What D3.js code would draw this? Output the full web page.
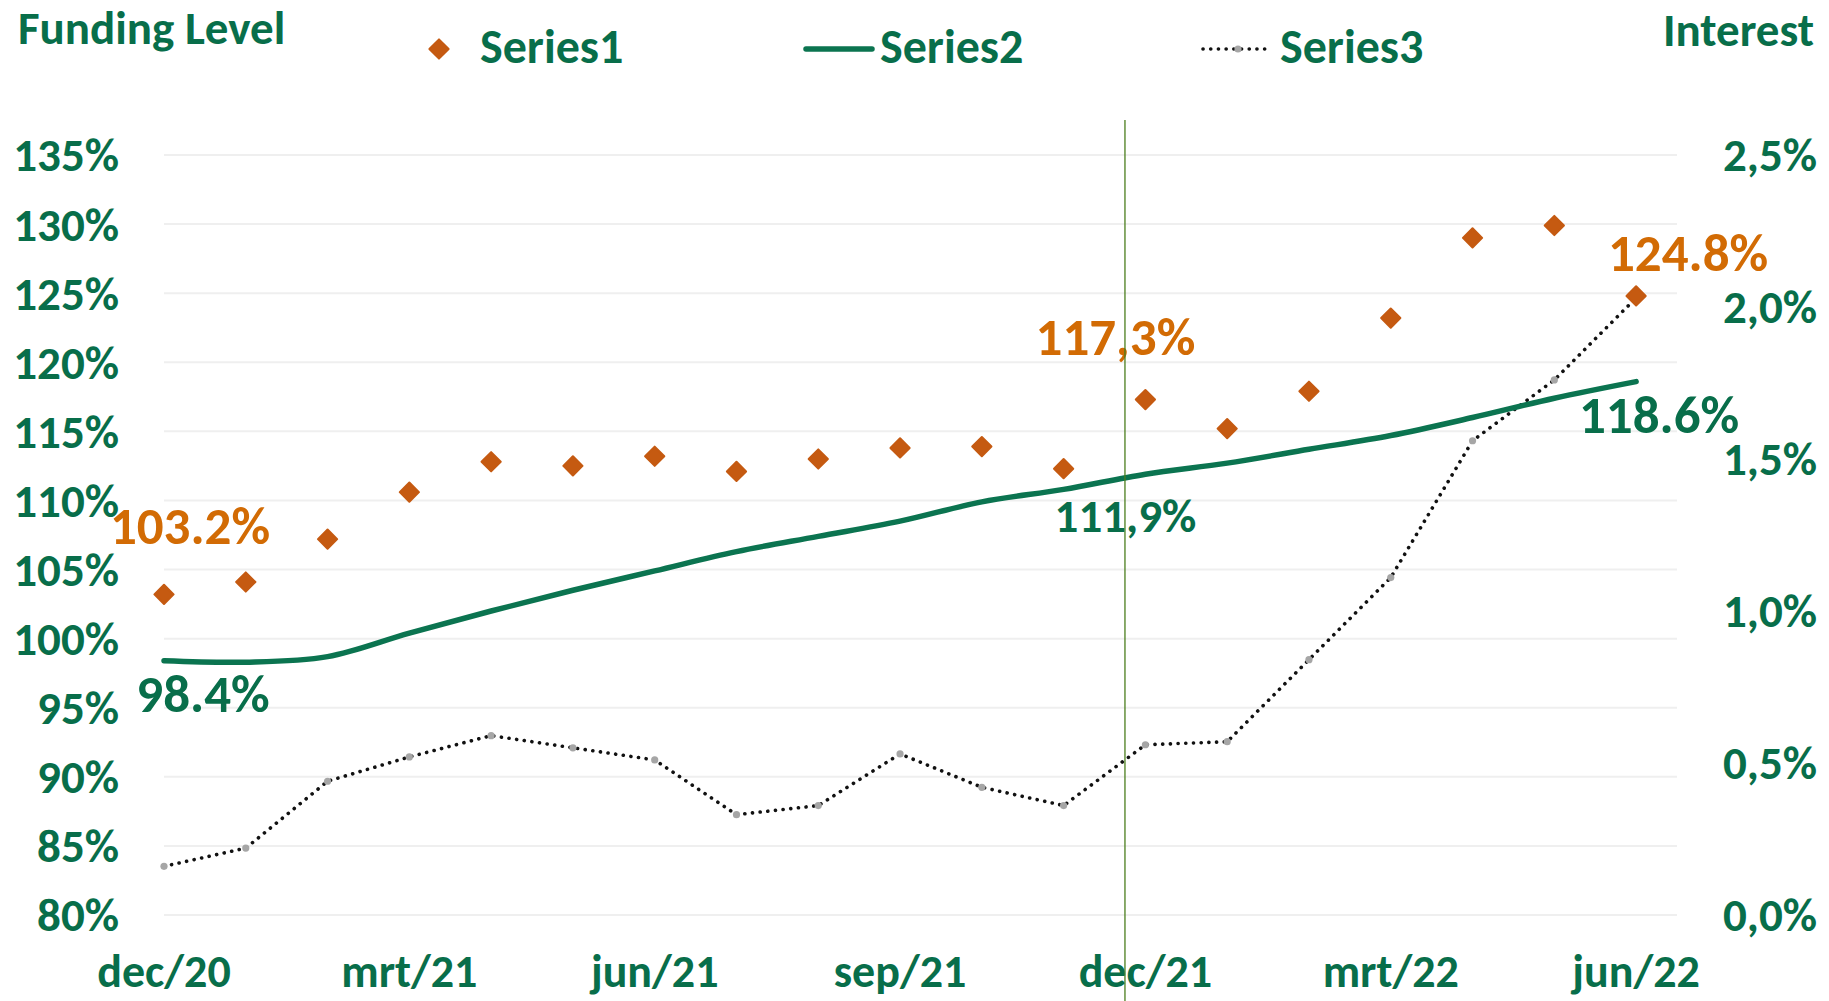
<!DOCTYPE html>
<html>
<head>
<meta charset="utf-8">
<script src="https://cdn.jsdelivr.net/npm/d3@7"></script>
<style>
    body { margin: 0; background: #fff; }
    svg text { font-family: Carlito, Calibri, Lato, sans-serif; font-weight: bold; }
</style>
</head>
<body>
<div id="chart"></div>
<script>
// maandelijkse data dec/20 - jun/22
const months = ["dec/20", "jan/21", "feb/21", "mrt/21", "apr/21", "mei/21", "jun/21", "jul/21", "aug/21",
    "sep/21", "okt/21", "nov/21", "dec/21", "jan/22", "feb/22", "mrt/22", "apr/22", "mei/22", "jun/22"];
const series1 = [103.2, 104.1, 107.2, 110.6, 112.8, 112.5, 113.2, 112.1, 113.0, 113.8, 113.9, 112.3,
    117.3, 115.2, 117.9, 123.2, 129.0, 129.9, 124.8];
const series2 = [98.4, 98.3, 98.7, 100.4, 102.0, 103.5, 104.9, 106.3, 107.4, 108.5, 109.9, 110.8,
    111.9, 112.7, 113.7, 114.7, 116.0, 117.4, 118.6];
const series3 = [0.16, 0.22, 0.44, 0.52, 0.59, 0.55, 0.51, 0.33, 0.36, 0.53, 0.42, 0.36,
    0.56, 0.57, 0.84, 1.11, 1.56, 1.76, 2.03];
const xTickLabels = ["dec/20", "mrt/21", "jun/21", "sep/21", "dec/21", "mrt/22", "jun/22"];
const leftTicks = [80, 85, 90, 95, 100, 105, 110, 115, 120, 125, 130, 135];
const rightTicks = [0, 0.5, 1.0, 1.5, 2.0, 2.5];
const legendNames = ["Series1", "Series2", "Series3"];
// verticale markering (positie in maanden vanaf dec/20)
const markerMonth = 11.75;
// datalabels: serie, index, decimaalteken
const dataLabels = [
    { series: 1, index: 0, sep: "." },
    { series: 2, index: 0, sep: "." },
    { series: 1, index: 12, sep: "," },
    { series: 2, index: 12, sep: "," },
    { series: 1, index: 18, sep: "." },
    { series: 2, index: 18, sep: "." }
];

class FundingChart {
    constructor(container) {
        this.container = container;
        this.width = 1829;
        this.height = 1001;
        this.green = "#086e4a";
        this.lineGreen = "#0b7450";
        this.orange = "#d26b04";
        this.diamond = "#c55a11";
        this.axisFont = "47px";
        this.init();
    }

    init() {
        d3.select(this.container).html("");
        this.svg = d3.select(this.container)
            .append("svg")
            .attr("width", this.width)
            .attr("height", this.height);

        this.x = d3.scaleLinear().domain([0, months.length - 0.5]).range([164, 1677]);
        this.yLeft = d3.scaleLinear().domain([80, 135]).range([915, 155]);
        this.yRight = d3.scaleLinear().domain([0, 2.5]).range([915, 155]);
    }

    render() {
        const svg = this.svg;
        const x = this.x, yL = this.yLeft, yR = this.yRight;
        const idx = d3.range(months.length);

        // rasterlijnen
        svg.append("g")
            .selectAll("line")
            .data(leftTicks)
            .join("line")
            .attr("x1", x(0)).attr("x2", x(months.length - 0.5))
            .attr("y1", d => yL(d)).attr("y2", d => yL(d))
            .attr("stroke", "#efefef")
            .attr("stroke-width", 2);

        // linker as
        svg.append("g")
            .selectAll("text")
            .data(leftTicks)
            .join("text")
            .attr("x", 119)
            .attr("y", d => yL(d))
            .attr("dy", "0.35em")
            .attr("text-anchor", "end")
            .attr("fill", this.green)
            .style("font-size", this.axisFont)
            .text(d => d + "%");

        // rechter as
        svg.append("g")
            .selectAll("text")
            .data(rightTicks)
            .join("text")
            .attr("x", 1817)
            .attr("y", d => yR(d))
            .attr("dy", "0.35em")
            .attr("text-anchor", "end")
            .attr("fill", this.green)
            .style("font-size", this.axisFont)
            .text(d => d.toFixed(1).replace(".", ",") + "%");

        // x-as labels
        svg.append("g")
            .selectAll("text")
            .data(xTickLabels)
            .join("text")
            .attr("x", d => x(months.indexOf(d)))
            .attr("y", 987)
            .attr("text-anchor", "middle")
            .attr("fill", this.green)
            .style("font-size", "46px")
            .text(d => d);

        // Series3 (rente, rechter as)
        svg.append("path")
            .datum(idx)
            .attr("d", d3.line().x(i => x(i)).y(i => yR(series3[i])))
            .attr("fill", "none")
            .attr("stroke", "#111")
            .attr("stroke-width", 3.6)
            .attr("stroke-linecap", "round")
            .attr("stroke-dasharray", "0.1 7.6");
        svg.append("g")
            .selectAll("circle")
            .data(idx)
            .join("circle")
            .attr("cx", i => x(i))
            .attr("cy", i => yR(series3[i]))
            .attr("r", 3.6)
            .attr("fill", "#a6a6a6");

        // Series2 (vloeiende lijn)
        svg.append("path")
            .datum(idx)
            .attr("d", d3.line().x(i => x(i)).y(i => yL(series2[i])).curve(d3.curveCatmullRom.alpha(0.5)))
            .attr("fill", "none")
            .attr("stroke", this.lineGreen)
            .attr("stroke-width", 5.5)
            .attr("stroke-linecap", "round");

        // Series1 (ruiten)
        const diamondPath = d3.symbol().type(d3.symbolSquare).size(185)();
        svg.append("g")
            .selectAll("path")
            .data(idx)
            .join("path")
            .attr("d", diamondPath)
            .attr("transform", i => `translate(${x(i)},${yL(series1[i])}) rotate(45)`)
            .attr("fill", this.diamond)
            .attr("stroke", this.diamond)
            .attr("stroke-width", 2)
            .attr("stroke-linejoin", "round");

        // datalabels: [dx, dy, lettergrootte]
        const offsets = {
            "1-0": [26, -50, 53], "2-0": [39, 51, 53],
            "1-12": [-30, -45, 53], "2-12": [-20, 58, 47],
            "1-18": [52, -25, 53], "2-18": [23, 51, 53]
        };
        svg.append("g")
            .selectAll("text")
            .data(dataLabels)
            .join("text")
            .each((d, i, nodes) => {
                const vals = d.series === 1 ? series1 : series2;
                const o = offsets[d.series + "-" + d.index];
                d3.select(nodes[i])
                    .attr("x", x(d.index) + o[0])
                    .attr("y", yL(vals[d.index]) + o[1])
                    .attr("text-anchor", "middle")
                    .attr("fill", d.series === 1 ? this.orange : this.green)
                    .style("font-size", o[2] + "px")
                    .text(vals[d.index].toFixed(1).replace(".", d.sep) + "%");
            });

        // verticale markering
        svg.append("line")
            .attr("x1", x(markerMonth)).attr("x2", x(markerMonth))
            .attr("y1", 120).attr("y2", this.height)
            .attr("stroke", "#4a7d1c")
            .attr("stroke-width", 1.3);

        // titels
        svg.append("text")
            .attr("x", 18).attr("y", 44)
            .attr("fill", this.green)
            .style("font-size", "47px")
            .text("Funding Level");
        svg.append("text")
            .attr("x", 1814).attr("y", 46)
            .attr("text-anchor", "end")
            .attr("fill", this.green)
            .style("font-size", "47px")
            .text("Interest");

        // legenda
        const legendY = 49;
        svg.append("path")
            .attr("d", diamondPath)
            .attr("transform", `translate(439,${legendY}) rotate(45)`)
            .attr("fill", this.diamond)
            .attr("stroke", this.diamond)
            .attr("stroke-width", 2)
            .attr("stroke-linejoin", "round");
        svg.append("line")
            .attr("x1", 806).attr("x2", 872)
            .attr("y1", legendY).attr("y2", legendY)
            .attr("stroke", this.lineGreen)
            .attr("stroke-width", 5.5)
            .attr("stroke-linecap", "round");
        svg.append("line")
            .attr("x1", 1203).attr("x2", 1272)
            .attr("y1", legendY).attr("y2", legendY)
            .attr("stroke", "#111")
            .attr("stroke-width", 3.6)
            .attr("stroke-linecap", "round")
            .attr("stroke-dasharray", "0.1 7.6");
        svg.append("circle")
            .attr("cx", 1238).attr("cy", legendY)
            .attr("r", 3.6)
            .attr("fill", "#a6a6a6");

        svg.append("g")
            .selectAll("text")
            .data(legendNames)
            .join("text")
            .attr("x", (d, i) => [480, 880, 1280][i])
            .attr("y", 63)
            .attr("fill", this.green)
            .style("font-size", "48px")
            .text(d => d);
    }
}

const chart = new FundingChart("#chart");
chart.render();
</script>
</body>
</html>
